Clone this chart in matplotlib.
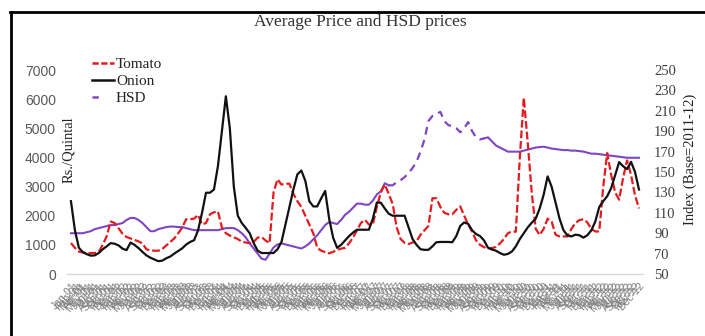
import matplotlib
matplotlib.use("Agg")
import matplotlib.pyplot as plt
from matplotlib.lines import Line2D
import numpy as np
import pandas as pd

# Monthly series
months = pd.date_range("2001-01-01", periods=144, freq="MS").strftime("%b-%y").tolist()

tomato = [
    1060, 900, 770, 740, 720, 720, 720, 760, 1000, 1300,
    1800, 1750, 1570, 1380, 1270, 1220, 1170, 1120, 1050, 850,
    810, 800, 800, 860, 980, 1100, 1220, 1400, 1590, 1880,
    1880, 1900, 2030, 1700, 1750, 2050, 2120, 2150, 1600, 1400,
    1320, 1260, 1200, 1110, 1080, 1060, 1100, 1250, 1270, 1150,
    1060, 2800, 3250, 3070, 3100, 3100, 2750, 2500, 2300, 2000,
    1700, 1400, 900, 800, 750, 710, 760, 830, 870, 900,
    1050, 1250, 1500, 1750, 1860, 1700, 1700, 2300, 2800, 3070,
    2750, 2400, 1600, 1200, 1070, 1030, 1080, 1120, 1350, 1500,
    1650, 2600, 2600, 2300, 2100, 2050, 2050, 2200, 2320, 2000,
    1700, 1450, 1150, 1000, 920, 880, 890, 930, 1050, 1200,
    1400, 1460, 1450, 4000, 6050, 4500, 2800, 1550, 1340, 1550,
    1900, 1800, 1350, 1290, 1290, 1290, 1550, 1750, 1850, 1880,
    1770, 1550, 1460, 1460, 3000, 4150, 3400, 2800, 2550, 3300,
    3900, 3400, 2700, 2250,
]

onion = [
    2500, 1500, 900, 750, 680, 630, 640, 720, 850, 950,
    1060, 1040, 980, 870, 820, 1080, 1000, 890, 760, 640,
    560, 500, 440, 460, 540, 600, 700, 790, 880, 1010,
    1100, 1160, 1500, 2100, 2790, 2790, 2900, 3700, 4900, 6100,
    5000, 3000, 2000, 1750, 1580, 1400, 1060, 800, 720, 720,
    720, 720, 850, 1100, 1700, 2300, 2900, 3420, 3550, 3200,
    2500, 2320, 2320, 2600, 2850, 1900, 1250, 900, 1000, 1150,
    1300, 1420, 1520, 1520, 1520, 1520, 1900, 2450, 2450, 2250,
    2070, 2000, 2000, 2000, 2000, 1600, 1200, 1000, 850, 830,
    830, 950, 1090, 1100, 1100, 1100, 1090, 1300, 1650, 1770,
    1720, 1500, 1370, 1300, 1150, 900, 840, 800, 720, 660,
    690, 770, 950, 1200, 1400, 1600, 1760, 1900, 2250, 2720,
    3350, 3000, 2450, 1900, 1500, 1320, 1290, 1350, 1330, 1250,
    1330, 1500, 1800, 2300, 2500, 2670, 2950, 3400, 3840, 3700,
    3600, 3850, 3500, 2900,
]

hsd = [
    90, 90, 90, 90, 91, 92, 94, 95, 96, 97,
    98, 98, 99, 100, 103, 105, 105, 103, 100, 96,
    92, 92, 94, 95, 96, 96.5, 96.5, 96, 96, 95,
    94, 93, 93, 93, 93, 93, 93, 93, 94, 95,
    95, 95, 93, 90, 86, 80, 75, 70, 65, 64,
    70, 76, 79, 80, 79, 78, 77, 76, 75, 77,
    80, 84, 88, 93, 98, 101, 100, 99, 103, 108,
    111, 115, 119, 119, 118, 118, 122, 128, 131, 139,
    137, 137, 140, 142, 145, 149, 154, 160, 170, 182,
    200, 205, 207, 209, 200, 196, 195, 193, 189, 193,
    199, 190, 184, 182, 183, 184, 180, 176, 174, 172,
    170, 170, 170, 170, 171, 172, 173, 174, 174.5, 174.8,
    174, 173, 172.5, 172, 171.5, 171.5, 171, 171, 170.5, 170,
    169, 168, 168, 167.5, 167, 166.5, 166, 165.5, 165, 164.5,
    164, 164, 164, 164,
]

# HSD months drawn with a dashed line
hsd_dashed_start, hsd_dashed_end = 80, 104

RED = "#e31b1f"
PURPLE = "#7f45c4"
BLACK = "#111111"
SERIF = "Liberation Serif"

fig = plt.figure(figsize=(7.05, 3.36), dpi=100)
ax = fig.add_axes([0.095, 0.1845, 0.817, 0.607])
ax2 = ax.twinx()

x = np.arange(len(months))
hsd_arr = np.array(hsd, dtype=float)
solid = hsd_arr.copy()
solid[hsd_dashed_start + 1:hsd_dashed_end] = np.nan
dashed = np.full_like(hsd_arr, np.nan)
dashed[hsd_dashed_start:hsd_dashed_end + 1] = hsd_arr[hsd_dashed_start:hsd_dashed_end + 1]

ax2.plot(x, solid, color=PURPLE, lw=1.5, zorder=1)
ax2.plot(x, dashed, color=PURPLE, lw=1.6, linestyle=(0, (3.5, 2.5)), zorder=1)
ax.plot(x, tomato, color=RED, lw=1.6, linestyle=(0, (3.5, 1.3)), zorder=3)
ax.plot(x, onion, color=BLACK, lw=1.6, zorder=4)
ax.set_zorder(ax2.get_zorder() + 1)
ax.patch.set_visible(False)

ax.set_xlim(-1.0, len(months))
ax.set_ylim(0, 7000)
ax.set_yticks(np.arange(0, 7001, 1000))
ax2.set_ylim(50, 250)
ax2.set_yticks(np.arange(50, 251, 20))

for a in (ax, ax2):
    for s in a.spines.values():
        s.set_visible(False)
ax.spines["bottom"].set_visible(True)
ax.spines["bottom"].set_color("#d9d9d9")
ax.spines["bottom"].set_linewidth(1.0)

ax.tick_params(axis="y", length=0, pad=8, labelsize=10, labelcolor="#595959")
for lbl in ax.get_yticklabels():
    lbl.set_fontfamily("Liberation Sans")
ax2.tick_params(axis="y", length=0, pad=8, labelsize=10.5, labelcolor="#404040")
for lbl in ax2.get_yticklabels():
    lbl.set_fontfamily(SERIF)

ax.set_xticks(x)
ax.set_xticklabels(months, rotation=48, ha="right", rotation_mode="anchor",
                   fontsize=7.5, color="#808080", family="Liberation Sans")
ax.tick_params(axis="x", length=0, pad=5)

fig.text(0.511, 0.935, "Average Price and HSD prices", ha="center", va="center",
         fontsize=12.5, family=SERIF, color="#333333")
fig.text(0.098, 0.555, "Rs./Quintal", rotation=90, ha="center", va="center",
         fontsize=10.5, family=SERIF, color="#222222")
fig.text(0.979, 0.527, "Index (Base=2011-12)", rotation=90, ha="center", va="center",
         fontsize=10.5, family=SERIF, color="#222222")

handles = [
    Line2D([], [], color=RED, lw=1.8, linestyle=(0, (2.5, 1))),
    Line2D([], [], color=BLACK, lw=1.8),
    Line2D([], [], color=PURPLE, lw=1.8, linestyle=(0.0, (2.5, 8))),
]
leg = ax.legend(handles, ["Tomato", "Onion", "HSD"], loc="upper left",
                bbox_to_anchor=(0.02, 1.13), frameon=False, handlelength=1.4,
                handletextpad=0.15, labelspacing=0.22,
                prop={"family": SERIF, "size": 11})
for t in leg.get_texts():
    t.set_color("#222222")

# Outer frame lines
fig.add_artist(Line2D([0.0145, 1.0], [0.964, 0.964], color="black", lw=2.0,
                      transform=fig.transFigure))
fig.add_artist(Line2D([0.0155, 0.0155], [0.0, 0.964], color="black", lw=2.0,
                      transform=fig.transFigure))

fig.savefig("out.png", dpi=100)
